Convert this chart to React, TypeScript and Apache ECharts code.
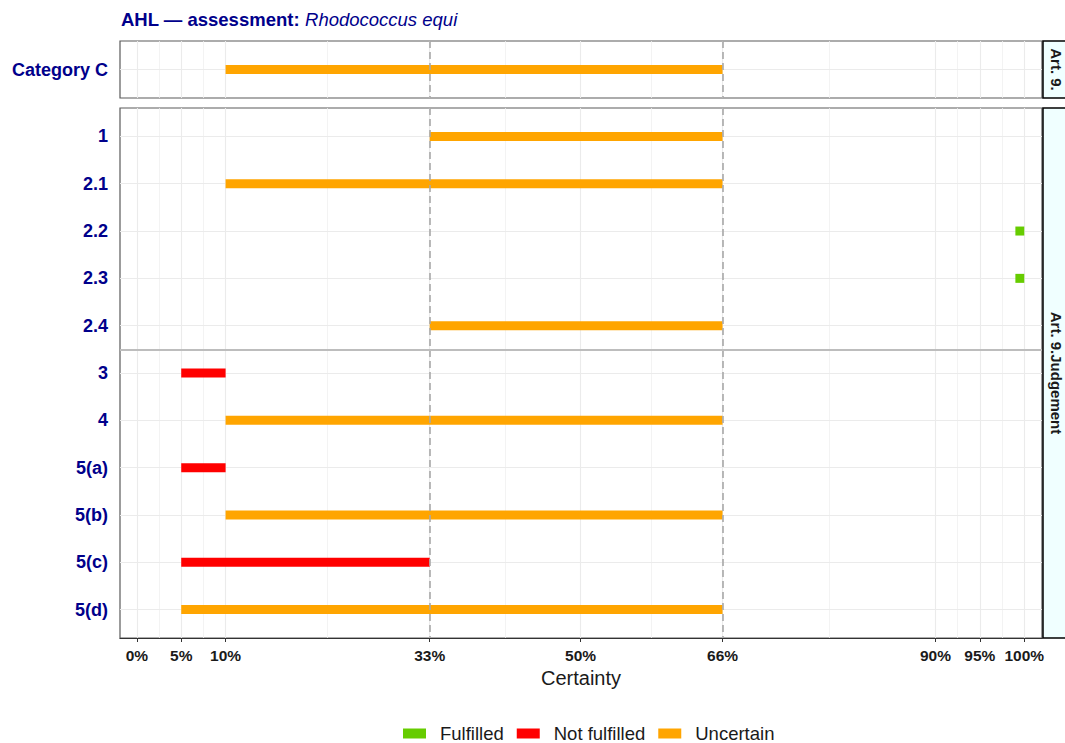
import React, { useEffect, useRef } from "react";
import * as echarts from "echarts";

// ---- Data ----
const topCategories = ["Category C"];
const topLower = [10];
const topUpper = [66];
const topStatus = ["Uncertain"];

const bottomCategories = ["1", "2.1", "2.2", "2.3", "2.4", "3", "4", "5(a)", "5(b)", "5(c)", "5(d)"];
const bottomLower = [33, 10, 99, 99, 33, 5, 10, 5, 10, 5, 5];
const bottomUpper = [66, 66, 100, 100, 66, 10, 66, 10, 66, 33, 66];
const bottomStatus = [
  "Uncertain", "Uncertain", "Fulfilled", "Fulfilled", "Uncertain",
  "Not fulfilled", "Uncertain", "Not fulfilled", "Uncertain", "Not fulfilled", "Uncertain",
];

const statusNames = ["Fulfilled", "Not fulfilled", "Uncertain"];
const statusColors = ["#66CC00", "#FF0000", "#FFA500"];

const xTicks = [0, 5, 10, 33, 50, 66, 90, 95, 100];
const xMinor = [2.5, 7.5, 21.5, 41.5, 58, 78, 92.5, 97.5];
const refLines = [33, 66];
const separatorPos = 5.5;

const stripTop = "Art. 9.";
const stripBottom = "Art. 9.Judgement";

const FONT = "'Liberation Sans', Arial, Helvetica, sans-serif";
const NAVY = "#00008B";

const X_MIN = -1.9;
const X_MAX = 102;

function rowsFor(lower: number[], upper: number[], status: string[], name: string) {
  const out: number[][] = [];
  for (let i = 0; i < lower.length; i++) {
    if (status[i] === name) out.push([lower[i], upper[i], i + 1]);
  }
  return out;
}

function renderBar(params: any, api: any) {
  const a = api.coord([api.value(0), api.value(2)]);
  const b = api.coord([api.value(1), api.value(2)]);
  const h = 9;
  return {
    type: "rect",
    shape: { x: a[0], y: a[1] - h / 2, width: b[0] - a[0], height: h },
    style: { fill: api.visual("color"), stroke: null, lineWidth: 0 },
  };
}

function seq(n: number) {
  const r: number[] = [];
  for (let i = 1; i <= n; i++) r.push(i);
  return r;
}

export default function App() {
  const ref = useRef<HTMLDivElement>(null);

  useEffect(() => {
    if (!ref.current) return;
    const chart = echarts.init(ref.current, undefined, { renderer: "svg" });

    const grids = [
      { left: 120, right: 23, top: 41, height: 57 },
      { left: 120, right: 23, top: 108, height: 530 },
    ];
    const cats = [topCategories, bottomCategories];

    const xAxes = [0, 1].map((gi) => ({
      type: "value",
      gridIndex: gi,
      min: X_MIN,
      max: X_MAX,
      show: gi === 1,
      splitLine: { show: false },
      axisLine: { show: true, onZero: false, lineStyle: { color: "#333333", width: 1.2 } },
      axisTick: { show: true, length: 4, customValues: xTicks, lineStyle: { color: "#333333" } },
      axisLabel: {
        customValues: xTicks,
        formatter: (v: number) => `${v}%`,
        fontFamily: FONT,
        fontWeight: "bold",
        fontSize: 15.5,
        color: "#1a1a1a",
        margin: 9,
      },
      name: gi === 1 ? "Certainty" : "",
      nameLocation: "middle",
      nameGap: 29,
      nameTextStyle: { fontFamily: FONT, fontSize: 20, color: "#1a1a1a" },
    }));

    const yAxes = [0, 1].map((gi) => ({
      type: "value",
      gridIndex: gi,
      inverse: true,
      min: 0.4,
      max: cats[gi].length + 0.6,
      splitLine: { show: false },
      axisLine: { show: false },
      axisTick: { show: true, length: 4, customValues: seq(cats[gi].length), lineStyle: { color: "#333333" } },
      axisLabel: {
        customValues: seq(cats[gi].length),
        formatter: (v: number) => cats[gi][Math.round(v) - 1] ?? "",
        fontFamily: FONT,
        fontWeight: "bold",
        fontSize: 18,
        color: NAVY,
        margin: 12,
      },
    }));

    const noLabel = { show: false };
    const gridLineSeries = [0, 1].map((gi) => ({
      type: "scatter",
      xAxisIndex: gi,
      yAxisIndex: gi,
      data: [[50, 1]],
      symbolSize: 0,
      silent: true,
      z: 1,
      markLine: {
        silent: true,
        z: 1,
        symbol: ["none", "none"],
        label: noLabel,
        animation: false,
        data: [
          ...xTicks.map((v) => ({ xAxis: v, lineStyle: { color: "#ebebeb", width: 1.1, type: "solid" } })),
          ...xMinor.map((v) => ({ xAxis: v, lineStyle: { color: "#f0f0f0", width: 0.8, type: "solid" } })),
          ...seq(cats[gi].length).map((v) => ({ yAxis: v, lineStyle: { color: "#ebebeb", width: 1.1, type: "solid" } })),
        ],
      },
    }));

    const refSeries = [0, 1].map((gi) => ({
      type: "scatter",
      xAxisIndex: gi,
      yAxisIndex: gi,
      data: [[50, 1]],
      symbolSize: 0,
      silent: true,
      z: 8,
      markLine: {
        silent: true,
        z: 8,
        symbol: ["none", "none"],
        label: noLabel,
        animation: false,
        data: [
          ...refLines.map((v) => ({ xAxis: v, lineStyle: { color: "#a8a8a8", width: 1.6, type: [7, 4] } })),
          ...(gi === 1 ? [{ yAxis: separatorPos, lineStyle: { color: "#bdbdbd", width: 2, type: "solid" } }] : []),
        ],
      },
    }));

    const barSeries: any[] = [];
    statusNames.forEach((name, si) => {
      const sets = [
        rowsFor(topLower, topUpper, topStatus, name),
        rowsFor(bottomLower, bottomUpper, bottomStatus, name),
      ];
      sets.forEach((data, gi) => {
        barSeries.push({
          type: "custom",
          name,
          xAxisIndex: gi,
          yAxisIndex: gi,
          data,
          renderItem: renderBar,
          itemStyle: { color: statusColors[si] },
          encode: { x: [0, 1], y: 2 },
          clip: true,
          silent: true,
          z: 4,
        });
      });
    });

    const strip = (y: number, h: number, text: string, size: number) => [
      {
        type: "rect",
        shape: { x: 1043, y, width: 26, height: h },
        style: { fill: "#F0FFFF", stroke: "#000000", lineWidth: 1.5 },
        z: 10,
      },
      {
        type: "text",
        x: 1056,
        y: y + h / 2,
        rotation: -Math.PI / 2,
        style: {
          text,
          fill: "#1a1a1a",
          font: `bold ${size}px ${FONT}`,
          textAlign: "center",
          textVerticalAlign: "middle",
        },
        z: 11,
      },
    ];

    chart.setOption({
      animation: false,
      textStyle: { fontFamily: FONT },
      title: {
        left: 116,
        top: 5,
        text: "{b|AHL — assessment: }{i|Rhodococcus equi}",
        textStyle: {
          rich: {
            b: { fontFamily: FONT, fontWeight: "bold", fontSize: 18.5, color: NAVY },
            i: { fontFamily: FONT, fontStyle: "italic", fontWeight: "normal", fontSize: 18.5, color: NAVY },
          },
        },
      },
      legend: {
        data: statusNames,
        left: 398,
        top: 719,
        icon: "rect",
        itemWidth: 23,
        itemHeight: 10,
        itemGap: 13,
        selectedMode: false,
        textStyle: { fontFamily: FONT, fontSize: 18.5, color: "#1a1a1a", padding: [0, 0, 0, 9] },
      },
      grid: grids.map((g) => ({ ...g, show: true, borderColor: "#5a5a5a", borderWidth: 1.2, backgroundColor: "#ffffff" })),
      xAxis: xAxes,
      yAxis: yAxes,
      series: [...gridLineSeries, ...barSeries, ...refSeries],
      graphic: [...strip(41, 57, stripTop, 15), ...strip(108, 530, stripBottom, 15)],
    });

    return () => chart.dispose();
  }, []);

  return (
    <div
      ref={ref}
      style={{ position: "absolute", left: 0, top: 0, width: 1065, height: 743, background: "#ffffff" }}
    />
  );
}
